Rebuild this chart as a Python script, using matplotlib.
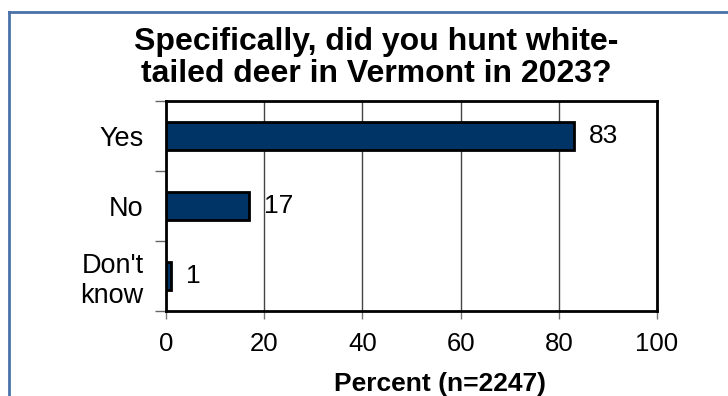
import matplotlib.pyplot as plt
from matplotlib.lines import Line2D

# survey responses
categories = ["Yes", "No", "Don't\nknow"]
percents = [83, 17, 1]
x_ticks = [0, 20, 40, 60, 80, 100]
title = "Specifically, did you hunt white-\ntailed deer in Vermont in 2023?"
x_title = "Percent (n=2247)"

W, H = 728, 396
plt.rcParams['font.family'] = ['Liberation Sans', 'DejaVu Sans']

fig = plt.figure(figsize=(W / 100, H / 100), dpi=100)
ax = fig.add_axes([166 / W, 1 - 311 / H, (657 - 166) / W, (311 - 101) / H])

pos = list(range(len(categories)))
ax.barh(pos, percents, height=0.4, color="#003366", edgecolor="black",
        linewidth=2, zorder=3)

# value labels just past the bar ends
for y, v in zip(pos, percents):
    ax.annotate(str(v), (v, y), xytext=(15, 0), textcoords="offset pixels",
                ha="left", va="center", fontsize=19)

ax.set_xlim(0, 100)
ax.set_ylim(len(categories) - 0.5, -0.5)
ax.set_xticks(x_ticks)
ax.set_xticklabels([str(t) for t in x_ticks], fontsize=18.5)
ax.set_yticks(pos)
ax.set_yticklabels(categories, fontsize=19.5)
ax.set_yticks([p - 0.5 for p in pos] + [pos[-1] + 0.5], minor=True)

ax.tick_params(axis="y", which="major", length=0, pad=16)
ax.tick_params(axis="y", which="minor", length=8, width=1, color="#666666")
ax.tick_params(axis="x", length=6, width=1, color="#777777", pad=9)

ax.grid(axis="x", color="#444444", linewidth=1, zorder=0)
for s in ax.spines.values():
    s.set_linewidth(2)
    s.set_color("black")

fig.text(376 / W, 1 - 58 / H, title, ha="center", va="center",
         fontsize=23, fontweight="bold", linespacing=1.05)
fig.text(440 / W, 1 - 384 / H, x_title, ha="center", va="center",
         fontsize=19, fontweight="bold")

# outer frame, running off the right and bottom edges
frame_kw = dict(color="#4a72a8", linewidth=2, transform=fig.transFigure)
fig.add_artist(Line2D([9 / W, 9 / W], [0, 1 - 11.5 / H], **frame_kw))
fig.add_artist(Line2D([9 / W, 1], [1 - 11.5 / H, 1 - 11.5 / H], **frame_kw))

fig.savefig("out.png", dpi=100)
